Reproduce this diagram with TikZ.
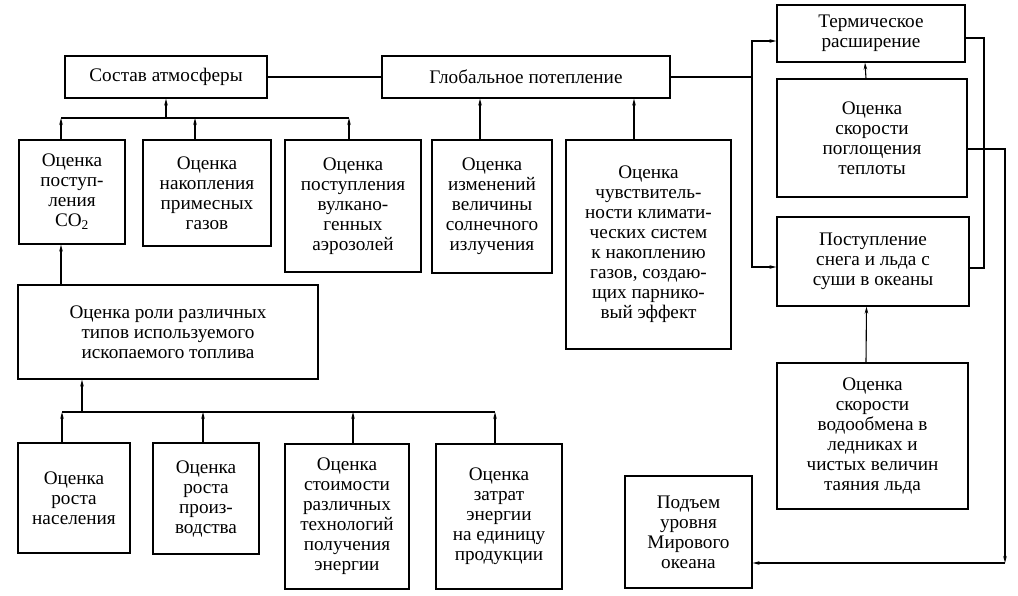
\documentclass[tikz,border=0pt]{standalone}
\usepackage{fontspec}
\setmainfont{Liberation Serif}
\usetikzlibrary{positioning,arrows.meta}

\begin{document}
\begin{tikzpicture}[x=1pt,y=-1pt,line width=1.1pt,>={Stealth[length=7pt,width=3.5pt]},
  every node/.style={draw,align=center,inner sep=0pt,font=\fontsize{19.2}{20}\selectfont},
  wh/.style n args={2}{minimum width=#1pt,minimum height=#2pt}]
\useasboundingbox (0,0) rectangle (1018,596);
% top row
\node[wh={202}{42}] (sostav) at (166,77) {Состав атмосферы};
\node[wh={288}{42}] (global) at (526,77) {Глобальное потепление};
\node[wh={106}{104}] (co2) at (72,192) {Оценка\\поступ-\\ления\\CO\textsubscript{2}};
\node[wh={128}{106}] (nakopl) at (207,193) {Оценка\\накопления\\примесных\\газов};
\node[wh={136}{132}] (vulkan) at (353,206) {Оценка\\поступления\\вулкано-\\генных\\аэрозолей};
\node[wh={120}{133}] (solar) at (492,206.5) {Оценка\\изменений\\величины\\солнечного\\излучения};
\node[wh={165}{209}] (sens) at (648.5,244.5) {Оценка\\чувствитель-\\ности климати-\\ческих систем\\к накоплению\\газов, создаю-\\щих парнико-\\вый эффект};
% right column
\node[wh={188}{57}] (thermo) at (871,33.5) {Термическое\\расширение};
\node[wh={190}{118}] (heat) at (872,138) {Оценка\\скорости\\поглощения\\теплоты};
\node[wh={192}{89}] (snow) at (873,261.5) {Поступление\\снега и льда с\\суши в океаны};
\node[wh={191}{146}] (glacier) at (872.5,436) {Оценка\\скорости\\водообмена в\\ледниках и\\чистых величин\\таяния льда};
\node[wh={127}{112}] (sea) at (688.5,532) {Подъем\\уровня\\Мирового\\океана};
% fuel
\node[wh={300}{94}] (fuel) at (168,332) {Оценка роли различных\\типов используемого\\ископаемого топлива};
\node[wh={112}{110}] (pop) at (74,498) {Оценка\\роста\\населения};
\node[wh={106}{111}] (prod) at (206,498.5) {Оценка\\роста\\произ-\\водства};
\node[wh={124}{145}] (tech) at (347,516.5) {Оценка\\стоимости\\различных\\технологий\\получения\\энергии};
\node[wh={126}{145}] (energy) at (499,516.5) {Оценка\\затрат\\энергии\\на единицу\\продукции};

\coordinate (ab1) at (61,118);
\coordinate (ab2) at (195,118);
\coordinate (ab3) at (349,118);
\coordinate (fb0) at (82,412);
\coordinate (fb1) at (62,412);
\coordinate (fb2) at (203,412);
\coordinate (fb3) at (353,412);
\coordinate (fb4) at (495,412);
\coordinate (tin) at (752,41);
\coordinate (sin) at (752,267);
\coordinate (tout) at (984,38);
\coordinate (sout) at (984,268);
\coordinate (hout) at (1005,149);
\coordinate (hdown) at (1005,563);

\draw (sostav) -- (global);
\draw (ab1) -- (ab3);
\draw[->] (sostav.south |- ab1) -- (sostav.south);
\foreach \n/\c in {co2/ab1,nakopl/ab2,vulkan/ab3}
	\draw[->] (\n.north -| \c) -- (\c);
\draw[->] (fuel.north -| ab1) -- (co2.south -| ab1);
\draw[->] ([xshift=-12pt]solar.north) -- ([xshift=-12pt]solar.north |- global.south);
\draw[->] ([xshift=-14.5pt]sens.north) -- ([xshift=-14.5pt]sens.north |- global.south);

\draw (fb1) -- (fb4);
\draw[->] (fb0) -- (fb0 |- fuel.south);
\foreach \n/\c in {pop/fb1,prod/fb2,tech/fb3,energy/fb4}
	\draw[->] (\n.north -| \c) -- (\c);

\draw[->] (global.east) -| (tin) -- (thermo.west |- tin);
\draw[->] (global.east) -| (sin) -- (snow.west |- sin);
\draw (thermo.east |- tout) -- (tout) -- (sout) -- (snow.east |- sout);
\draw[->] ([xshift=-6pt]heat.north) -- ([xshift=-6pt]thermo.south);
\draw[->] ([xshift=-6.5pt]glacier.north) -- ([xshift=-6.5pt]snow.south);
\draw[->] (heat.east |- hout) -- (hout) -- (hdown);
\draw[->] (hdown) -- (sea.east |- hdown);
\end{tikzpicture}
\end{document}
